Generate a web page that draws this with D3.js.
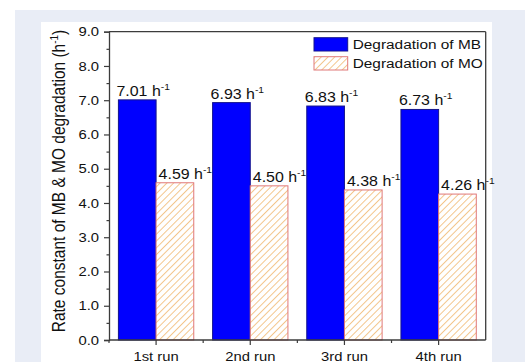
<!DOCTYPE html>
<html>
<head>
<meta charset="utf-8">
<script src="https://cdn.jsdelivr.net/npm/d3@7"></script>
<style>
  html, body { margin: 0; padding: 0; background: #ffffff; }
  svg { display: block; font-family: "Liberation Sans", Arial, sans-serif; }
</style>
</head>
<body>
<svg id="chart" width="525" height="362"></svg>
<script>
// Rate constants (h^-1) for four consecutive catalytic runs
const categories = ["1st run", "2nd run", "3rd run", "4th run"];
const mbRates = [7.01, 6.93, 6.83, 6.73];
const moRates = [4.59, 4.50, 4.38, 4.26];
const seriesNames = ["Degradation of MB", "Degradation of MO"];
const yTickValues = [0, 1, 2, 3, 4, 5, 6, 7, 8, 9];
const yMinorValues = [0.5, 1.5, 2.5, 3.5, 4.5, 5.5, 6.5, 7.5, 8.5];
const yTitle = "Rate constant of MB & MO degradation (h";

const SX = 1.14; // horizontal glyph stretch used for all text
const svg = d3.select("#chart");

// page backdrop and white chart panel
svg.append("rect").attr("x", 15).attr("y", 10).attr("width", 510).attr("height", 352).attr("fill", "#e9edf6");
svg.append("rect").attr("x", 41).attr("y", 22).attr("width", 451).attr("height", 340).attr("fill", "#ffffff");

const plot = { left: 109, right: 485.7, top: 31.7, bottom: 340 };

const x0 = d3.scaleBand().domain(categories).range([plot.left, plot.right])
  .paddingInner(0.2).paddingOuter(0.1);
const x1 = d3.scaleBand().domain(seriesNames).range([0, x0.bandwidth()]);
const y = d3.scaleLinear().domain([0, 9]).range([plot.bottom, plot.top]);

// hatch pattern for the MO bars
const defs = svg.append("defs");
const HS = 4.8;
const pat = defs.append("pattern").attr("id", "hatch").attr("patternUnits", "userSpaceOnUse")
  .attr("width", HS).attr("height", HS).attr("patternTransform", "rotate(45)");
pat.append("rect").attr("width", HS).attr("height", HS).attr("fill", "#ffffff");
pat.append("line").attr("x1", 0.5).attr("y1", 0).attr("x2", 0.5).attr("y2", HS)
  .attr("stroke", "#f0b468").attr("stroke-width", 0.75);

const rows = categories.map((c, i) => ({ cat: c, vals: [mbRates[i], moRates[i]] }));
const fills = ["#0000ff", "url(#hatch)"];
const strokes = ["#14148c", "#e07878"];

const groups = svg.append("g").selectAll("g").data(rows).join("g")
  .attr("transform", d => `translate(${x0(d.cat)},0)`);

groups.selectAll("rect").data(d => d.vals.map((v, k) => ({ v, k })))
  .join("rect")
  .attr("x", d => x1(seriesNames[d.k]))
  .attr("y", d => y(d.v))
  .attr("width", x1.bandwidth())
  .attr("height", d => y(0) - y(d.v))
  .attr("fill", d => fills[d.k])
  .attr("stroke", d => strokes[d.k])
  .attr("stroke-width", 1);

// value labels above the bars
groups.selectAll("text").data(d => d.vals.map((v, k) => ({ v, k })))
  .join("text")
  .attr("transform", d => `translate(${x1(seriesNames[d.k]) + (d.k === 0 ? -2 : 2.5)},${y(d.v) - 4}) scale(${SX},1)`)
  .attr("font-size", 14)
  .attr("fill", "#111")
  .each(function (d) {
    const t = d3.select(this);
    t.append("tspan").text(d.v.toFixed(2) + " h");
    t.append("tspan").attr("font-size", 9).attr("dy", -6).text("-1");
  });

// frame: top and right edges
const axisColor = "#3c3c3c";
svg.append("line").attr("x1", plot.left).attr("x2", plot.right).attr("y1", plot.top).attr("y2", plot.top)
  .attr("stroke", axisColor).attr("stroke-width", 1.3);
svg.append("line").attr("x1", plot.right).attr("x2", plot.right).attr("y1", plot.top).attr("y2", plot.bottom)
  .attr("stroke", axisColor).attr("stroke-width", 1.3);

// left axis
const yAxis = svg.append("g").attr("transform", `translate(${plot.left},0)`)
  .call(d3.axisLeft(y).tickValues(yTickValues).tickSize(5).tickPadding(5).tickFormat(d => d.toFixed(1)));
yAxis.append("g").call(d3.axisLeft(y).tickValues(yMinorValues).tickSize(2.5).tickFormat(""))
  .select(".domain").remove();
yAxis.selectAll("path.domain").attr("stroke", axisColor).attr("stroke-width", 1.3);
yAxis.selectAll(".tick line").attr("stroke", axisColor).attr("stroke-width", 1.2);
yAxis.selectAll(".tick text").each(function () {
  const t = d3.select(this);
  const xx = +t.attr("x");
  t.attr("x", 0).attr("transform", `translate(${xx},0) scale(${SX},1)`);
}).attr("font-size", 13).attr("fill", "#111").attr("font-family", null);

// bottom axis: major ticks at run centres, minor ticks between runs
const centers = categories.map(c => x0(c) + x0.bandwidth() / 2);
const bounds = [plot.left].concat(categories.slice(1).map(c => x0(c) - x0.step() * x0.paddingInner() / 2));
const xAxis = svg.append("g").attr("transform", `translate(0,${plot.bottom})`);
xAxis.append("line").attr("x1", plot.left).attr("x2", plot.right).attr("stroke", axisColor).attr("stroke-width", 1.3);
xAxis.selectAll("line.major").data(centers).join("line").attr("class", "major")
  .attr("x1", d => d).attr("x2", d => d).attr("y1", 0).attr("y2", 5)
  .attr("stroke", axisColor).attr("stroke-width", 1.2);
xAxis.selectAll("line.minor").data(bounds).join("line").attr("class", "minor")
  .attr("x1", d => d).attr("x2", d => d).attr("y1", 0).attr("y2", 3)
  .attr("stroke", axisColor).attr("stroke-width", 1.2);
xAxis.selectAll("text").data(categories).join("text")
  .attr("transform", d => `translate(${x0(d) + x0.bandwidth() / 2},20.5) scale(${SX},1)`)
  .attr("text-anchor", "middle").attr("font-size", 13).attr("fill", "#111")
  .text(d => d);

// y axis title
const title = svg.append("text")
  .attr("transform", `translate(65,181) scale(${SX},1) rotate(-90)`)
  .attr("text-anchor", "middle").attr("font-size", 15.5).attr("fill", "#111");
title.append("tspan").text(yTitle);
title.append("tspan").attr("font-size", 10).attr("dy", -6).text("-1");
title.append("tspan").attr("dy", 6).text(")");

// legend
const legend = svg.append("g").attr("transform", "translate(314,37.7)");
const items = legend.selectAll("g").data(seriesNames).join("g")
  .attr("transform", (d, i) => `translate(0,${i * 19})`);
items.append("rect").attr("width", 33.7).attr("height", 13.3)
  .attr("fill", (d, i) => fills[i]).attr("stroke", (d, i) => strokes[i]).attr("stroke-width", 1);
items.append("text").attr("transform", `translate(38.7,11.6) scale(${SX},1)`)
  .attr("font-size", 13.5).attr("fill", "#111").text(d => d);
</script>
</body>
</html>
